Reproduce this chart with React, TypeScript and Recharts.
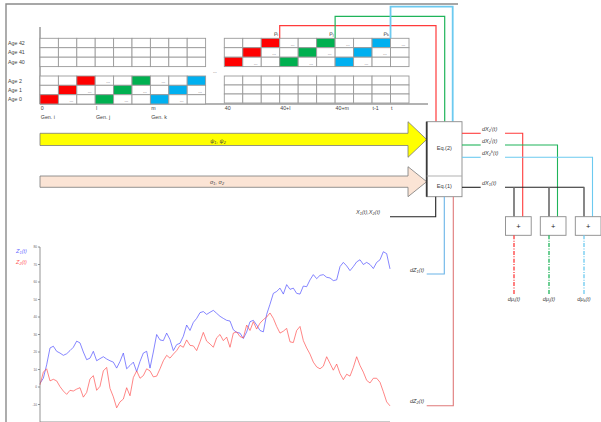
import { ComposedChart, Line, XAxis, YAxis } from "recharts";

// simulated paths of the two state variables
const z1 = [
  2.1, 5.0, 12.7, 22.3, 23.3, 20.4, 19.4, 18.1, 19.0, 20.8, 22.7, 26.2, 25.2, 20.0, 15.6, 16.5, 20.4, 15.0, 16.2, 17.3,
  16.0, 15.0, 14.2, 10.8, 14.6, 19.4, 10.4, 12.3, 14.2, 8.8, 14.6, 19.4, 20.4, 10.8, 20.0, 30.0, 26.9, 26.5, 30.8, 27.1,
  20.8, 24.2, 25.0, 29.0, 35.4, 32.3, 36.9, 39.2, 42.5, 43.1, 41.5, 42.7, 43.8, 42.1, 40.4, 39.2, 38.1, 37.7, 32.7, 31.2,
  30.8, 27.7, 31.5, 37.3, 38.1, 35.4, 32.3, 31.5, 41.5, 47.3, 53.5, 54.6, 56.5, 53.1, 58.5, 55.8, 56.5, 53.5, 53.1, 57.7,
  57.3, 61.2, 64.2, 61.9, 63.8, 64.2, 62.7, 62.3, 60.8, 61.2, 68.8, 71.2, 69.2, 66.5, 68.8, 71.5, 72.7, 70.0, 71.2, 70.0,
  67.7, 71.2, 72.7, 77.3, 76.2, 67.5,
];
const z2 = [
  1.2, 8.5, 10.4, 3.5, 4.4, 3.5, 0.2, -2.3, -4.2, -1.9, -2.3, -1.2, -0.4, -5.8, -3.1, 4.6, 6.5, -1.9, 0.4, 9.2,
  11.2, -0.8, -5.6, -11.9, -8.5, -6.9, -0.4, -5.0, 5.4, 9.2, 5.0, 6.5, 10.4, 9.2, 5.8, 6.2, 10.4, 15.0, 18.1, 16.5,
  18.8, 20.8, 23.8, 22.7, 26.9, 23.8, 23.5, 20.8, 25.8, 31.2, 26.2, 24.6, 22.7, 28.1, 30.0, 26.5, 28.5, 22.7, 30.8, 31.5,
  28.8, 28.1, 35.4, 32.3, 37.3, 33.1, 36.5, 38.5, 40.0, 42.3, 39.2, 34.6, 30.8, 31.9, 33.5, 25.8, 25.4, 32.3, 34.6, 26.5,
  22.3, 18.8, 14.2, 11.5, 10.4, 11.9, 17.3, 13.5, 9.6, 13.1, 7.7, 4.2, 7.3, 6.2, 11.2, 17.3, 12.3, 8.5, 3.8, 2.3,
  5.0, 5.0, 2.7, -2.7, -8.5, -10.8,
];
const yTicks = [-20, -10, 0, 10, 20, 30, 40, 50, 60, 70, 80];

// overlapping-generations grid
const ageTop = ["Age 42", "Age 41", "Age 40"];
const ageBottom = ["Age 2", "Age 1", "Age 0"];
const earlyPeriods = [
  { label: "0", col: 0 },
  { label: "l", col: 3 },
  { label: "m", col: 6 },
];
const latePeriods = [
  { label: "40", col: 0 },
  { label: "40+l", col: 3 },
  { label: "40+m", col: 6 },
  { label: "t-1", col: 8 },
  { label: "t", col: 9 },
];
const generations = ["Gen. i", "Gen. j", "Gen. k"];
const cohorts = [
  { name: "i", start: 0, color: "#ff0000", line: "#ff3b3b" },
  { name: "j", start: 3, color: "#00b050", line: "#1fb45a" },
  { name: "k", start: 6, color: "#00b0f0", line: "#6ccaf0" },
];

const data = z1.map((v, i) => ({ t: i, z1: v, z2: z2[i] }));
const xMax = z1.length - 1;
const xTicks = Array.from({ length: 20 }, (_, i) => (i * xMax) / 19);

const FONT = "'Liberation Sans', Arial, sans-serif";
const INK = "#404040";

type GridProps = {
  x0: number;
  colW: number;
  cols: number;
  rowYs: number[];
  colored: boolean;
};

const Grid = ({ x0, colW, cols, rowYs, colored }: GridProps) => {
  const rows = rowYs.length - 1;
  const cells: JSX.Element[] = [];
  for (let r = 0; r < rows; r++) {
    const age = rows - 1 - r;
    for (let c = 0; c < cols; c++) {
      let fill = "#fff";
      let dots = false;
      if (colored) {
        cohorts.forEach((co) => {
          if (c === co.start + age) fill = co.color;
          if (c === co.start + age + 1) dots = true;
        });
      }
      const x = x0 + c * colW;
      const y = rowYs[r];
      const h = rowYs[r + 1] - rowYs[r];
      cells.push(
        <g key={`${r}-${c}`}>
          <rect x={x} y={y} width={colW} height={h} fill={fill} stroke="#9a9a9a" strokeWidth={0.9} />
          {dots && (
            <text x={x + 11} y={y + h - 2} fontSize={4.5} fill={INK} fontFamily={FONT}>
              ...
            </text>
          )}
        </g>
      );
    }
  }
  return <g>{cells}</g>;
};

// italic label with optional subscript / superscript
const MathLabel = ({ x, y, base, sub, sup, tail = "(t)", color = INK, anchor = "start" }: any) => (
  <text x={x} y={y} fontSize={5.6} fontStyle="italic" fill={color} fontFamily={FONT} textAnchor={anchor}>
    {base}
    {sub && (
      <tspan fontSize={4} dy={1.3}>
        {sub}
      </tspan>
    )}
    {sup && (
      <tspan fontSize={4} dy={-3.6}>
        {sup}
      </tspan>
    )}
    <tspan fontSize={5.6} dy={sup ? 2.3 : sub ? -1.3 : 0}>
      {tail}
    </tspan>
  </text>
);

const Diagram = () => {
  const lx = 40;
  const lw = 18.4;
  const rx = 224.3;
  const rw = 18.47;
  const topRows = [38.3, 47.7, 57.2, 66.6];
  const botRowsL = [76, 85.3, 94.7, 104];
  const botRowsR = [76, 85, 94, 103];
  const outY = [133.3, 145, 157.3];
  const plusX = [505.5, 540.3, 575.3];
  const dropX = [514, 549, 584];
  const inX = [522.7, 557.5, 592.5];
  const topY = [25.7, 16.3, 6.6];
  const riseX = [436, 444.7, 452.7];

  return (
    <svg width={601} height={422} style={{ position: "absolute", left: 0, top: 0 }}>
      {/* frame */}
      <path d="M6,422 V4 H458" fill="none" stroke="#8a8a8a" strokeWidth={1.4} />

      {/* age / period axes */}
      <path d="M40,27 V104 H428" fill="none" stroke="#555" strokeWidth={0.9} />
      {ageTop.map((a, i) => (
        <text key={a} x={8} y={(topRows[i] + topRows[i + 1]) / 2 + 2} fontSize={5.3} fill={INK} fontFamily={FONT}>
          {a}
        </text>
      ))}
      {ageBottom.map((a, i) => (
        <text key={a} x={8} y={(botRowsL[i] + botRowsL[i + 1]) / 2 + 2} fontSize={5.3} fill={INK} fontFamily={FONT}>
          {a}
        </text>
      ))}

      <Grid x0={lx} colW={lw} cols={9} rowYs={topRows} colored={false} />
      <Grid x0={lx} colW={lw} cols={9} rowYs={botRowsL} colored />
      <Grid x0={rx} colW={rw} cols={10} rowYs={topRows} colored />
      <Grid x0={rx} colW={rw} cols={10} rowYs={botRowsR} colored={false} />
      <text x={213} y={73} fontSize={4.5} fill={INK} fontFamily={FONT}>
        ...
      </text>

      {earlyPeriods.map((p, i) => (
        <g key={p.label}>
          <text x={lx + p.col * lw + 0.8} y={110} fontSize={5.3} fill={INK} fontFamily={FONT}>
            {p.label}
          </text>
          <text x={lx + p.col * lw + 0.8} y={119.3} fontSize={5.3} fill={INK} fontFamily={FONT}>
            {generations[i]}
          </text>
        </g>
      ))}
      {latePeriods.map((p) => (
        <text key={p.label} x={rx + p.col * rw + 0.5} y={110} fontSize={5.3} fill={INK} fontFamily={FONT}>
          {p.label}
        </text>
      ))}

      {/* cohort survival probabilities feeding Eq.(2) */}
      {cohorts.map((co, i) => {
        const cx = rx + (co.start + 3) * rw;
        return (
          <g key={co.name}>
            <path
              d={`M${cx},${topRows[0]} V${topY[i]} H${riseX[i]} V121.7`}
              fill="none"
              stroke={co.line}
              strokeWidth={i === 2 ? 1.8 : 1.2}
            />
            <text x={cx - 1.5} y={35} fontSize={6} fill={INK} fontFamily={FONT} textAnchor="end">
              ρ
              <tspan fontSize={4} dy={1.3}>
                {co.name}
              </tspan>
            </text>
          </g>
        );
      })}

      {/* parameter arrows */}
      <polygon
        points="40,133.3 408,133.3 408,121.7 426.7,139.5 408,157.3 408,145.5 40,145.5"
        fill="#ffff00"
        stroke="#7a7a7a"
        strokeWidth={0.8}
      />
      <text x={218} y={142.5} fontSize={5.6} fontStyle="italic" fill={INK} fontFamily={FONT} textAnchor="middle">
        ψ<tspan fontSize={3.8} dy={1.2}>1</tspan>
        <tspan dy={-1.2}>, ψ</tspan>
        <tspan fontSize={3.8} dy={1.2}>2</tspan>
      </text>
      <polygon
        points="40,176 408,176 408,166.7 426.7,181.7 408,196.7 408,187.3 40,187.3"
        fill="#fbe4d5"
        stroke="#7a7a7a"
        strokeWidth={0.8}
      />
      <text x={217} y={183.6} fontSize={5.6} fontStyle="italic" fill={INK} fontFamily={FONT} textAnchor="middle">
        σ<tspan fontSize={3.8} dy={1.2}>1</tspan>
        <tspan dy={-1.2}>, σ</tspan>
        <tspan fontSize={3.8} dy={1.2}>2</tspan>
      </text>

      {/* equation block */}
      <rect x={426.7} y={121.7} width={35.3} height={75} fill="#fff" stroke="#8a8a8a" strokeWidth={0.9} />
      <line x1={426.7} y1={121.7} x2={426.7} y2={196.7} stroke="#3a3a3a" strokeWidth={1.8} />
      <line x1={426.7} y1={176} x2={462} y2={176} stroke="#a8a8a8" strokeWidth={0.9} />
      <text x={444.3} y={150.3} fontSize={5.6} fill={INK} fontFamily={FONT} textAnchor="middle">
        Eq.(2)
      </text>
      <text x={444.3} y={188.3} fontSize={5.6} fill={INK} fontFamily={FONT} textAnchor="middle">
        Eq.(1)
      </text>

      {/* inputs below the block */}
      <path d="M435.7,196.7 V216.7 H390" fill="none" stroke="#222" strokeWidth={1.1} />
      <text x={356} y={214} fontSize={5.6} fontStyle="italic" fill={INK} fontFamily={FONT}>
        X<tspan fontSize={4} dy={1.3}>1</tspan>
        <tspan dy={-1.3}>(t),X</tspan>
        <tspan fontSize={4} dy={1.3}>2</tspan>
        <tspan dy={-1.3}>(t)</tspan>
      </text>
      <path d="M444.3,196.7 V274 H426.7" fill="none" stroke="#6ab4e8" strokeWidth={1.1} />
      <MathLabel x={410} y={271.5} base="dZ" sub="1" />
      <path d="M453.3,196.7 V405.7 H426.7" fill="none" stroke="#e07a7a" strokeWidth={1.1} />
      <MathLabel x={410} y={403} base="dZ" sub="2" />

      {/* outputs of Eq.(2) */}
      {cohorts.map((co, i) => (
        <g key={co.name}>
          <line x1={462} y1={outY[i]} x2={480.7} y2={outY[i]} stroke={co.line} strokeWidth={1.1} />
          <path d={`M505,${outY[i]} H${inX[i]} V216.7`} fill="none" stroke={co.line} strokeWidth={1.1} />
          <MathLabel x={482} y={outY[i] - 2.5} base="dX" sub="2" sup={co.name} />
        </g>
      ))}

      {/* output of Eq.(1) */}
      <line x1={462} y1={187.3} x2={480.7} y2={187.3} stroke="#222" strokeWidth={1.1} />
      <line x1={505} y1={187.3} x2={584.3} y2={187.3} stroke="#222" strokeWidth={1.1} />
      <MathLabel x={482} y={184.8} base="dX" sub="1" />
      {dropX.map((x) => (
        <line key={x} x1={x} y1={187.3} x2={x} y2={216.7} stroke="#6a6a6a" strokeWidth={1.6} />
      ))}

      {/* summing nodes and mortality intensities */}
      {cohorts.map((co, i) => (
        <g key={co.name}>
          <rect x={plusX[i]} y={216.7} width={25.7} height={18.6} fill="#fff" stroke="#8a8a8a" strokeWidth={0.9} />
          <text x={plusX[i] + 12.85} y={228.6} fontSize={7.5} fill="#222" fontFamily={FONT} textAnchor="middle">
            +
          </text>
          <line
            x1={dropX[i]}
            y1={235.3}
            x2={dropX[i]}
            y2={294}
            stroke={co.line}
            strokeWidth={1.3}
            strokeDasharray="4 1.4 1 1.4"
          />
          <text x={dropX[i]} y={300.5} fontSize={5.6} fontStyle="italic" fill={INK} fontFamily={FONT} textAnchor="middle">
            dμ<tspan fontSize={4} dy={1.3}>{co.name}</tspan>
            <tspan dy={-1.3}>(t)</tspan>
          </text>
        </g>
      ))}

      {/* legend of the simulated paths */}
      <MathLabel x={16} y={252.5} base="Z" sub="1" color="#6a6aff" />
      <MathLabel x={16} y={264} base="Z" sub="2" color="#ff5a5a" />
    </svg>
  );
};

const App = () => {
  return (
    <div style={{ position: "absolute", left: 0, top: 0, width: 601, height: 422, background: "#fff" }}>
      <Diagram />
      <div style={{ position: "absolute", left: 0, top: 0 }}>
        <ComposedChart width={601} height={422} data={data} margin={{ top: 247, right: 211, bottom: 0, left: 20 }}>
          <XAxis
            dataKey="t"
            type="number"
            domain={[0, xMax]}
            ticks={xTicks}
            tick={false}
            height={1}
            mirror
            tickSize={3}
            stroke="#7a7a7a"
            strokeWidth={0.8}
          />
          <YAxis
            type="number"
            domain={[-20, 80]}
            ticks={yTicks}
            width={20}
            tickSize={2}
            tickMargin={1}
            stroke="#7a7a7a"
            strokeWidth={0.8}
            tick={{ fontSize: 3.2, fill: "#666", fontFamily: FONT }}
          />
          <Line
            dataKey="z1"
            type="linear"
            stroke="#4a4aff"
            strokeOpacity={0.75}
            strokeWidth={0.9}
            dot={false}
            isAnimationActive={false}
          />
          <Line
            dataKey="z2"
            type="linear"
            stroke="#ff4a4a"
            strokeOpacity={0.75}
            strokeWidth={0.9}
            dot={false}
            isAnimationActive={false}
          />
        </ComposedChart>
      </div>
    </div>
  );
};

export default App;
